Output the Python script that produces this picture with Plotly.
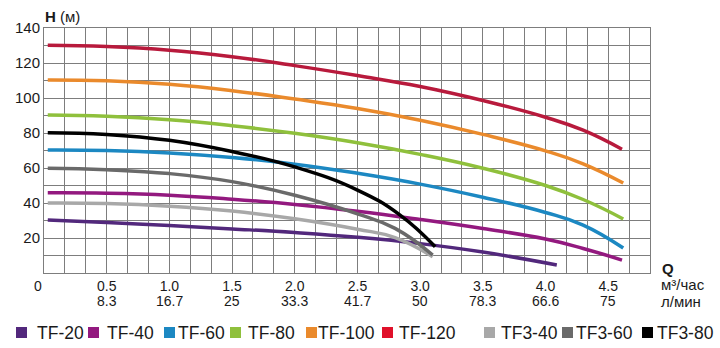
import plotly.graph_objects as go

# ---- data ----
names = ["TF-20", "TF-40", "TF-60", "TF-80", "TF-100", "TF-120", "TF3-40", "TF3-60", "TF3-80"]
colors = ["#52287c", "#93197f", "#1c88c2", "#8fc03c", "#ea8a2c", "#b81a3c", "#a8a8a8", "#6a6a6a", "#000000"]
legend_colors = ["#52287c", "#93197f", "#1c88c2", "#8fc03c", "#ea8a2c", "#e0102a", "#a8a8a8", "#6a6a6a", "#000000"]

q_tf20 = [0.03, 0.5, 1.0, 1.5, 2.0, 2.5, 3.0, 3.5, 4.09]
h_tf20 = [30.3, 28.8, 27.1, 25.2, 23.1, 20.4, 16.8, 12.0, 4.6]
q_tf40 = [0.03, 0.5, 1.0, 1.5, 2.0, 2.5, 3.0, 3.5, 4.0, 4.3, 4.61]
h_tf40 = [45.8, 45.6, 44.5, 42.2, 39.2, 35.3, 30.6, 25.4, 19.4, 14.0, 7.4]
q_tf60 = [0.03, 0.5, 1.0, 1.5, 2.0, 2.5, 3.0, 3.5, 4.0, 4.3, 4.62]
h_tf60 = [70.3, 70.0, 68.6, 66.0, 62.2, 57.0, 50.8, 43.3, 34.6, 27.4, 14.3]
q_tf80 = [0.03, 0.5, 1.0, 1.5, 2.0, 2.5, 3.0, 3.5, 4.0, 4.3, 4.62]
h_tf80 = [90.3, 89.6, 87.6, 84.2, 79.8, 74.4, 67.8, 59.9, 50.0, 42.0, 30.9]
q_tf100 = [0.03, 0.5, 1.0, 1.5, 2.0, 2.5, 3.0, 3.5, 4.0, 4.3, 4.62]
h_tf100 = [110.3, 109.8, 107.8, 104.2, 99.4, 94.0, 87.3, 79.2, 69.8, 62.4, 51.4]
q_tf120 = [0.03, 0.5, 1.0, 1.5, 2.0, 2.5, 3.0, 3.5, 4.0, 4.3, 4.61]
h_tf120 = [130.1, 129.4, 127.3, 123.6, 118.5, 112.8, 106.6, 98.6, 89.0, 81.6, 70.7]
q_tf3_40 = [0.03, 0.5, 1.0, 1.5, 2.0, 2.5, 2.8, 3.1]
h_tf3_40 = [40.0, 39.7, 38.2, 35.4, 31.0, 25.0, 20.2, 9.3]
q_tf3_60 = [0.03, 0.5, 1.0, 1.5, 2.0, 2.5, 2.8, 3.1]
h_tf3_60 = [59.8, 59.0, 56.8, 52.2, 44.4, 33.8, 25.5, 10.3]
q_tf3_80 = [0.03, 0.5, 1.0, 1.5, 2.0, 2.5, 2.84, 3.12]
h_tf3_80 = [80.2, 79.2, 75.8, 69.4, 60.6, 47.4, 33.1, 15.0]

series_q = [q_tf20, q_tf40, q_tf60, q_tf80, q_tf100, q_tf120, q_tf3_40, q_tf3_60, q_tf3_80]
series_h = [h_tf20, h_tf40, h_tf60, h_tf80, h_tf100, h_tf120, h_tf3_40, h_tf3_60, h_tf3_80]

q_labels = ["0", "0.5", "1.0", "1.5", "2.0", "2.5", "3.0", "3.5", "4.0", "4.5"]
lmin_labels = ["", "8.3", "16.7", "25", "33.3", "41.7", "50", "78.3", "66.6", "75"]
q_label_vals = [0, 0.5, 1.0, 1.5, 2.0, 2.5, 3.0, 3.5, 4.0, 4.5]
h_labels = ["20", "40", "60", "80", "100", "120", "140"]

# ---- layout constants ----
W, H = 720, 348
L, R, T, B = 44, 70, 28, 75
pw, ph = W - L - R, H - T - B
XMAX = 29 / 6
FONT = "Liberation Sans, Arial, sans-serif"
TXT = "#1a1a1a"
GRID = "#7d7d7d"
TICKSIZE = 14

def px_x(px):
    return (px - L) / pw

def px_y(py):
    return (H - B - py) / ph

fig = go.Figure()
for q, h, c, n in zip(series_q, series_h, colors, names):
    fig.add_trace(go.Scatter(x=q, y=h, mode="lines", name=n,
                             line=dict(color=c, width=3.5, shape="spline", smoothing=1.3),
                             showlegend=False, hoverinfo="skip"))

# x grid every 1/6, labels every 0.5 (the "0" is placed as annotation, slightly left)
x_tickvals = [k / 6 for k in range(30)]
x_ticktext = []
for k in range(30):
    if k % 3 == 0 and 0 < k // 3 < len(q_labels):
        x_ticktext.append(q_labels[k // 3])
    else:
        x_ticktext.append("")

y_tickvals = list(range(0, 150, 10))
y_ticktext = [str(v) if str(v) in h_labels else "" for v in y_tickvals]

annotations = [
    dict(x=0, y=px_y(285.5), xref="x", yref="paper", text=q_labels[0], xshift=-6,
         showarrow=False, xanchor="center", yanchor="middle",
         font=dict(family=FONT, size=TICKSIZE, color=TXT)),
]
# second row of x labels (l/min)
for xv, t in zip(q_label_vals, lmin_labels):
    if t:
        annotations.append(dict(x=xv, y=px_y(300.5), xref="x", yref="paper", text=t,
                                showarrow=False, xanchor="center", yanchor="middle",
                                font=dict(family=FONT, size=TICKSIZE, color=TXT)))
annotations += [
    dict(x=px_x(43), y=px_y(16), xref="paper", yref="paper", text="<b>H</b> (м)",
         showarrow=False, xanchor="left", yanchor="middle",
         font=dict(family=FONT, size=15, color=TXT)),
    dict(x=px_x(660), y=px_y(268), xref="paper", yref="paper", text="<b>Q</b>",
         showarrow=False, xanchor="left", yanchor="middle",
         font=dict(family=FONT, size=15, color=TXT)),
    dict(x=px_x(659), y=px_y(284), xref="paper", yref="paper", text="м³/час",
         showarrow=False, xanchor="left", yanchor="middle",
         font=dict(family=FONT, size=15, color=TXT)),
    dict(x=px_x(659), y=px_y(301), xref="paper", yref="paper", text="л/мин",
         showarrow=False, xanchor="left", yanchor="middle",
         font=dict(family=FONT, size=15, color=TXT)),
]

# custom legend (squares + labels)
legend_sq_px = [16, 88, 164, 230, 306, 382, 484, 562, 642]
legend_txt_px = [35, 105, 176, 246, 316, 397, 499, 574, 655]
shapes = []
SQ = 11
for sx, tx, c, n in zip(legend_sq_px, legend_txt_px, legend_colors, names):
    shapes.append(dict(type="rect", xref="paper", yref="paper",
                       x0=px_x(sx), x1=px_x(sx + SQ), y0=px_y(338), y1=px_y(327),
                       fillcolor=c, line=dict(width=0)))
    annotations.append(dict(x=px_x(tx), y=px_y(332.5), xref="paper", yref="paper",
                            text=n, showarrow=False, xanchor="left", yanchor="middle",
                            font=dict(family=FONT, size=17.5, color=TXT)))

fig.update_layout(
    width=W, height=H,
    margin=dict(l=L, r=R, t=T, b=B, pad=0),
    paper_bgcolor="white", plot_bgcolor="white",
    showlegend=False,
    annotations=annotations,
    shapes=shapes,
    xaxis=dict(range=[0, XMAX], tickmode="array", tickvals=x_tickvals, ticktext=x_ticktext,
               showgrid=True, gridcolor=GRID, gridwidth=1, zeroline=False,
               showline=True, linecolor=GRID, mirror=True, ticks="",
               ticklabelstandoff=0,
               tickfont=dict(family=FONT, size=TICKSIZE, color=TXT)),
    yaxis=dict(range=[0, 140], tickmode="array", tickvals=y_tickvals, ticktext=y_ticktext,
               showgrid=True, gridcolor=GRID, gridwidth=1, zeroline=False,
               showline=True, linecolor=GRID, mirror=True, ticks="",
               tickfont=dict(family=FONT, size=15, color=TXT)),
)

fig.write_html("out.html")
